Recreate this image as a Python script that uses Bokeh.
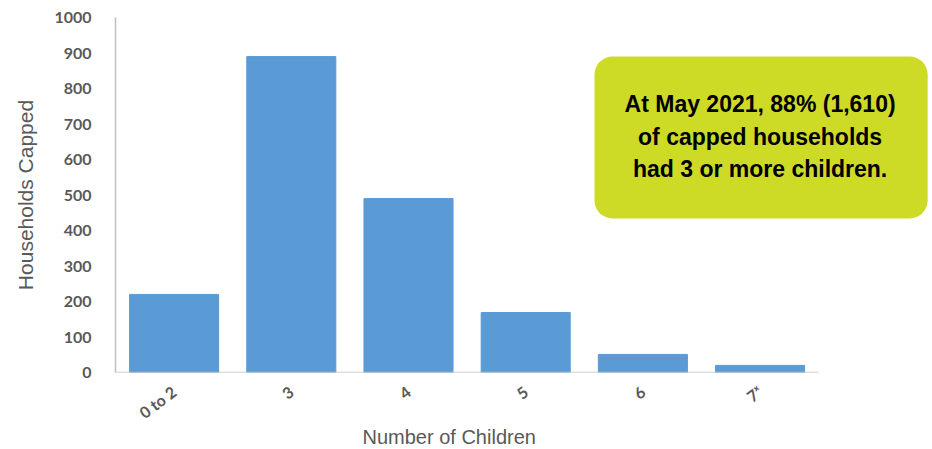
import math
from bokeh.plotting import figure
from bokeh.models import Range1d, FixedTicker, BoxAnnotation, Label, Title
from bokeh.embed import file_html
from bokeh.resources import INLINE

categories = ["0 to 2", "3", "4", "5", "6", "7\u02E3"]
households = [220, 890, 490, 169, 51, 20]
y_ticks = [0, 100, 200, 300, 400, 500, 600, 700, 800, 900, 1000]
callout_lines = ["At May 2021, 88% (1,610)", "of capped households", "had 3 or more children."]

xs = [i + 0.5 for i in range(len(categories))]

p = figure(width=930, height=447, output_backend="svg", toolbar_location=None,
           x_range=Range1d(0, 6.937), y_range=Range1d(0, 1000),
           min_border_left=115, min_border_top=17, min_border_bottom=75, min_border_right=2)
p.outline_line_color = None
p.xgrid.grid_line_color = None
p.ygrid.grid_line_color = None

p.vbar(x=xs, top=households, width=0.76, color="#5B9BD5")

# x axis
p.xaxis.ticker = FixedTicker(ticks=xs)
p.xaxis.major_label_overrides = {x: c for x, c in zip(xs, categories)}
p.xaxis.major_label_orientation = math.radians(37)
p.xaxis.major_tick_line_color = None
p.xaxis.minor_tick_line_color = None
p.xaxis.axis_line_color = None
p.xaxis.major_label_text_font = "Lato"
p.xaxis.major_label_text_font_style = "bold"
p.xaxis.major_label_text_font_size = "16px"
p.xaxis.major_label_text_color = "#595959"
p.xaxis.major_label_standoff = 11

# x axis line up to the last category
p.segment(x0=[0], y0=[0], x1=[len(categories)], y1=[0], line_color="#BFBFBF", line_width=1.5)

# y axis
p.yaxis.ticker = FixedTicker(ticks=y_ticks)
p.yaxis.major_tick_line_color = None
p.yaxis.minor_tick_line_color = None
p.yaxis.axis_line_color = "#BFBFBF"
p.yaxis.axis_line_width = 1.5
p.yaxis.major_label_text_font = "Lato"
p.yaxis.major_label_text_font_style = "bold"
p.yaxis.major_label_text_font_size = "16px"
p.yaxis.major_label_text_color = "#595959"
p.yaxis.major_label_standoff = 18
p.yaxis.axis_label = "Households Capped"
p.yaxis.axis_label_text_font = "Liberation Sans"
p.yaxis.axis_label_text_font_style = "normal"
p.yaxis.axis_label_text_font_size = "21px"
p.yaxis.axis_label_text_color = "#595959"
p.yaxis.axis_label_standoff = 14

# x axis title
p.add_layout(Title(text="Number of Children", align="left", offset=247,
                   text_font="Liberation Sans", text_font_style="normal",
                   text_font_size="20px", text_color="#595959", standoff=-14,
                   vertical_align="top", text_line_height=1.0), "below")

# callout box
p.add_layout(BoxAnnotation(left=4.087, right=6.93, top=890, bottom=434,
                           fill_color="#CDDB27", fill_alpha=1.0, line_color=None,
                           border_radius=18))
for i, t in enumerate(callout_lines):
    p.add_layout(Label(x=5.5, y=755 - i * 91, text=t, text_align="center", text_baseline="middle",
                       text_font="Liberation Sans", text_font_style="bold", text_font_size="23px",
                       text_color="#000000"))

open("out.html", "w").write(file_html(p, INLINE))
